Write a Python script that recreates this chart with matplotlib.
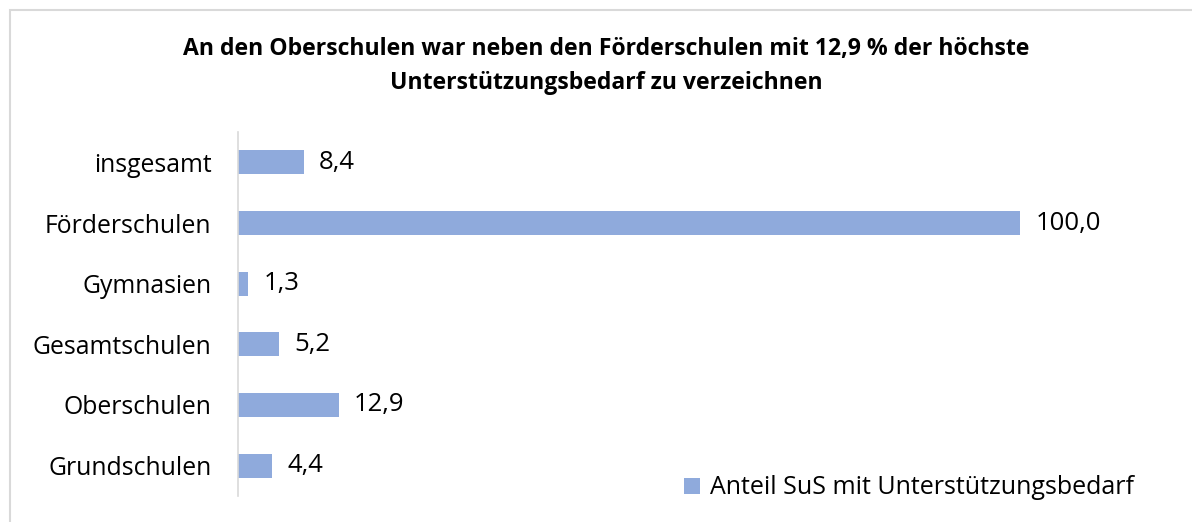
import matplotlib.pyplot as plt
from matplotlib.patches import Rectangle

# Daten (von oben nach unten)
schularten = ["insgesamt", "Förderschulen", "Gymnasien", "Gesamtschulen", "Oberschulen", "Grundschulen"]
anteil = [8.4, 100.0, 1.3, 5.2, 12.9, 4.4]
serie = "Anteil SuS mit Unterstützungsbedarf"
titel = "An den Oberschulen war neben den Förderschulen mit 12,9 % der höchste\nUnterstützungsbedarf zu verzeichnen"

farbe = "#8FAADC"
grau = "#D9D9D9"
plt.rcParams['font.family'] = ['Open Sans', 'DejaVu Sans']

fig = plt.figure(figsize=(11.92, 5.22), dpi=100)

# Rahmen um das Diagramm
fig.patches.append(Rectangle((10/1192, -0.05), 1.2, 1 - 10/522 + 0.05, transform=fig.transFigure,
                             fill=False, edgecolor=grau, linewidth=1.5))

ax = fig.add_axes([238/1192, 26/522, 782/1192, 364/522])
y = list(range(len(schularten)))
balken = ax.barh(y, anteil, height=0.4, color=farbe, label=serie)
ax.set_ylim(len(schularten) - 0.5, -0.5)
ax.set_xlim(0, 100)

for yi, v in zip(y, anteil):
    ax.annotate(f"{v:.1f}".replace(".", ","), (v, yi), xytext=(11, 0), textcoords="offset points",
                va="center", ha="left", fontsize=18.5, color="#000000", annotation_clip=False)

ax.set_yticks(y)
ax.set_yticklabels(schularten, fontsize=17.8)
ax.tick_params(axis="y", length=0, pad=19)
ax.set_xticks([])
for s in ["top", "right", "bottom"]:
    ax.spines[s].set_visible(False)
ax.spines["left"].set_color(grau)
ax.spines["left"].set_linewidth(1.2)

fig.text(606/1192, 1 - 66/522, titel, ha="center", va="center", fontsize=16.6,
         fontweight="bold", linespacing=1.6)

fig.legend(handles=[balken], loc="center left", bbox_to_anchor=(684/1192, 1 - 488/522),
           frameon=False, fontsize=18, handlelength=0.63, handleheight=0.63, handletextpad=0.4,
           borderpad=0, borderaxespad=0)

fig.savefig("out.png", dpi=100)
